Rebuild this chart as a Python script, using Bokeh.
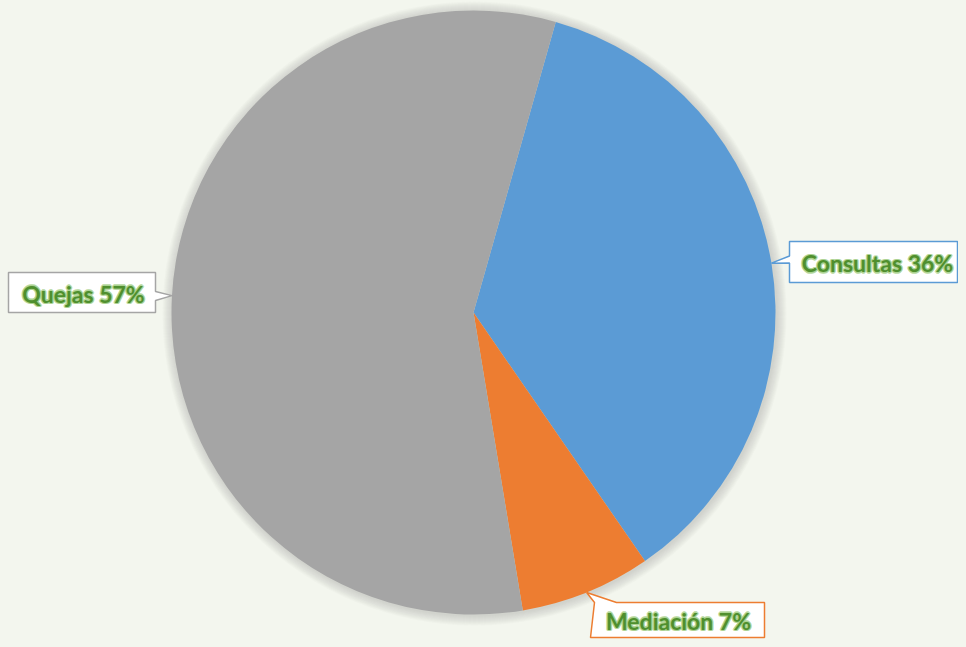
import math
from bokeh.plotting import figure
from bokeh.models import Range1d, ColumnDataSource, GlobalInlineStyleSheet
from bokeh.core.properties import value
from bokeh.embed import file_html
from bokeh.resources import INLINE

# ---- data ----
categories = ["Consultas", "Mediación", "Quejas"]
percents = [36, 7, 57]
colors = ["#5b9bd5", "#ed7d31", "#a5a5a5"]
label_texts = ["Consultas 36%", "Mediación 7%", "Quejas 57%"]

# ---- layout (pixel-like data coords, y = -pixel row) ----
W, H = 958, 639
BG = "#f3f6ee"
CX, CY, R = 473, -312, 302
START_DEG = 74.2  # math angle of first slice start (clockwise drawing)

p = figure(width=W, height=H, output_backend="svg", toolbar_location=None,
           x_range=Range1d(0, W), y_range=Range1d(-H, 0),
           min_border=0)
p.axis.visible = False
p.grid.visible = False
p.outline_line_color = None
p.background_fill_color = BG
p.border_fill_color = BG
p.stylesheets = [GlobalInlineStyleSheet(css="html, body { background: %s; }" % BG)]

# soft shadow
for k in range(10, 0, -1):
    p.circle(x=[CX + 1], y=[CY - 1], radius=R + k, fill_color="#9a9a90",
             fill_alpha=0.035, line_color=None)

total = sum(percents)
starts, ends, mids = [], [], []
a = math.radians(START_DEG)
for v in percents:
    sweep = 2 * math.pi * v / total
    starts.append(a)
    ends.append(a - sweep)
    mids.append(a - sweep / 2)
    a -= sweep

src = ColumnDataSource(dict(start=starts, end=ends, color=colors))
p.wedge(x=CX, y=CY, radius=R, start_angle="start", end_angle="end",
        direction="clock", fill_color="color", line_color=None, source=src)

# label boxes: (left, top, right, bottom) in pixel rows, pointer side, text center
boxes = [
    (789, 241, 957, 282, "left", 877),
    (590, 602, 764, 637, "top", 678),
    (8, 272, 155, 312, "right", 83),
]

FS = "23px"
for (l, t, r_, b, side, tx), mid, col, txt in zip(boxes, mids, colors, label_texts):
    tipx = CX + R * math.cos(mid)
    tipy = CY + R * math.sin(mid)
    if side == "left":
        ym = -(t + b) / 2
        xs = [l, l, tipx, l, l, r_, r_]
        ys = [-t, ym + 6, tipy, ym - 1, -b, -b, -t]
        ty = ym - 1
    elif side == "right":
        ym = -(t + b) / 2
        xs = [l, r_, r_, tipx, r_, r_, l]
        ys = [-t, -t, ym + 1, tipy, ym - 8, -b, -b]
        ty = ym - 1
    else:  # top
        xs = [l, l + 4, tipx, l + 26, r_, r_, l]
        ys = [-b, -t, tipy, -t, -t, -b, -b]
        ty = -620
    p.patch(x=xs, y=ys, fill_color="white", line_color=col, line_width=1.5)
    for dx, dy in [(-1.5, 0), (1.5, 0), (0, -1.5), (0, 1.5), (-1, -1), (1, 1), (-1, 1), (1, -1)]:
        p.text(x=[tx + dx], y=[ty + dy], text=[txt], text_font=value("Lato"),
               text_font_style="bold", text_font_size=FS, text_color="#a9d18e",
               text_align="center", text_baseline="middle", text_alpha=0.7)
    p.text(x=[tx], y=[ty], text=[txt], text_font=value("Lato"),
           text_font_style="bold", text_font_size=FS, text_color="#4f8f2e",
           text_align="center", text_baseline="middle")

open("out.html", "w").write(file_html(p, INLINE))
